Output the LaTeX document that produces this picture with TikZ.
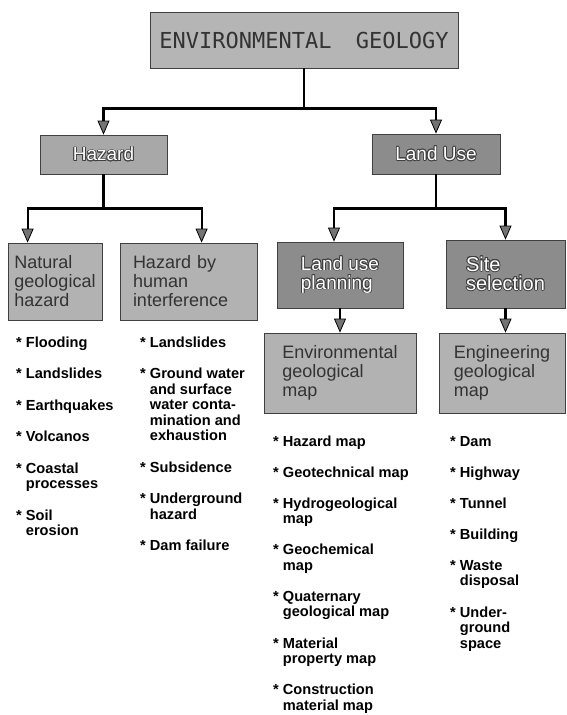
\documentclass[tikz,border=0pt]{standalone}
\usepackage{fontspec}
\setmainfont{Liberation Sans}
\newfontfamily\titlefont{DejaVu Sans Mono}
\usepackage[copies]{contour}
\contourlength{0.8pt}
\usetikzlibrary{arrows.meta}

\tikzset{
  box/.style={draw=black!75, line width=0.8pt, inner sep=0pt, align=left},
  palebox/.style={box, fill=black!30, text=black!80, font=\fontsize{18}{19}\selectfont},
  darkbox/.style={box, fill=black!45, text=white, font=\fontsize{19}{19}\selectfont},
  link/.style={line width=2.2pt, -{Triangle[width=12pt, length=14pt, line width=0.8pt, fill=black!55]}},
  itemlist/.style={anchor=base west, inner sep=0pt, font=\bfseries\fontsize{14.6}{15.5}\selectfont}
}

\begin{document}
\begin{tikzpicture}[x=1pt, y=-1pt]
  \useasboundingbox (0,0) rectangle (567,715);
  % boxes
  \node[box, fill=black!29, text=black!80, minimum width=308pt, minimum height=56pt,
        font=\titlefont\fontsize{22}{24}\selectfont] (geology) at (304,40) {ENVIRONMENTAL\hspace{0.5em} GEOLOGY};
  \node[box, fill=black!34, text=white, font=\fontsize{19}{19}\selectfont,
        minimum width=127pt, minimum height=39pt] (hazard) at (103.5,154.5) {\contour{black!75}{Hazard}};
  \node[darkbox, minimum width=128pt, minimum height=40pt] (landuse) at (436,154) {\contour{black!75}{Land Use}};
  \node[palebox, minimum width=94pt, minimum height=77pt] (natural) at (55,281.5) {Natural\\geological\\hazard};
  \node[palebox, minimum width=137pt, minimum height=77pt, text width=111pt] (human) at (188.5,281.5) {Hazard by\\human\\interference};
  \node[darkbox, minimum width=126pt, minimum height=66pt] (planning) at (340,275) {\contour{black!75}{Land use}\\\contour{black!75}{planning}};
  \node[darkbox, minimum width=119pt, minimum height=68pt, font=\fontsize{20}{19}\selectfont] (site) at (505.5,274) {\contour{black!75}{Site}\\\contour{black!75}{selection}};
  \node[palebox, minimum width=152pt, minimum height=80pt] (envmap) at (340,373) {Environmental\\geological\\map};
  \node[palebox, minimum width=126pt, minimum height=80pt] (engmap) at (502,373) {Engineering\\geological\\map};
  % connectors
  \draw[link] (geology.south) -- ++(0,40) -| (hazard.north);
  \draw[link] (geology.south) -- ++(0,40) -| (landuse.north);
  \draw[link] (hazard.south) -- ++(0,34) -| ([xshift=20pt]natural.north west);
  \draw[link] (hazard.south) -- ++(0,34) -| ([xshift=82pt]human.north west);
  \draw[link] (landuse.south) -- ++(0,34) -| ([xshift=-6pt]planning.north);
  \draw[link] (landuse.south) -- ++(0,34) -| (site.north);
  \draw[link] (planning.south) -- (envmap.north);
  \draw[link] (site.south) -- (site.south |- engmap.north);
  % lists
  \node[itemlist] (naturallist) at (16,347) {\begin{tabular}[t]{@{}l@{ }l@{}}
    *&Flooding\\[16pt]
    *&Landslides\\[16pt]
    *&Earthquakes\\[16pt]
    *&Volcanos\\[16pt]
    *&Coastal\\&processes\\[16pt]
    *&Soil\\&erosion
  \end{tabular}};
  \node[itemlist] (humanlist) at (140,347) {\begin{tabular}[t]{@{}l@{ }l@{}}
    *&Landslides\\[16pt]
    *&Ground water\\&and surface\\&water conta-\\&mination and\\&exhaustion\\[16pt]
    *&Subsidence\\[16pt]
    *&Underground\\&hazard\\[16pt]
    *&Dam failure
  \end{tabular}};
  \node[itemlist] (envlist) at (273,446) {\begin{tabular}[t]{@{}l@{ }l@{}}
    *&Hazard map\\[15.6pt]
    *&Geotechnical map\\[15.6pt]
    *&Hydrogeological\\&map\\[15.6pt]
    *&Geochemical\\&map\\[15.6pt]
    *&Quaternary\\&geological map\\[15.6pt]
    *&Material\\&property map\\[15.6pt]
    *&Construction\\&material map
  \end{tabular}};
  \node[itemlist] (englist) at (450,446) {\begin{tabular}[t]{@{}l@{ }l@{}}
    *&Dam\\[15.6pt]
    *&Highway\\[15.6pt]
    *&Tunnel\\[15.6pt]
    *&Building\\[15.6pt]
    *&Waste\\&disposal\\[15.6pt]
    *&Under-\\&ground\\&space
  \end{tabular}};
\end{tikzpicture}
\end{document}
